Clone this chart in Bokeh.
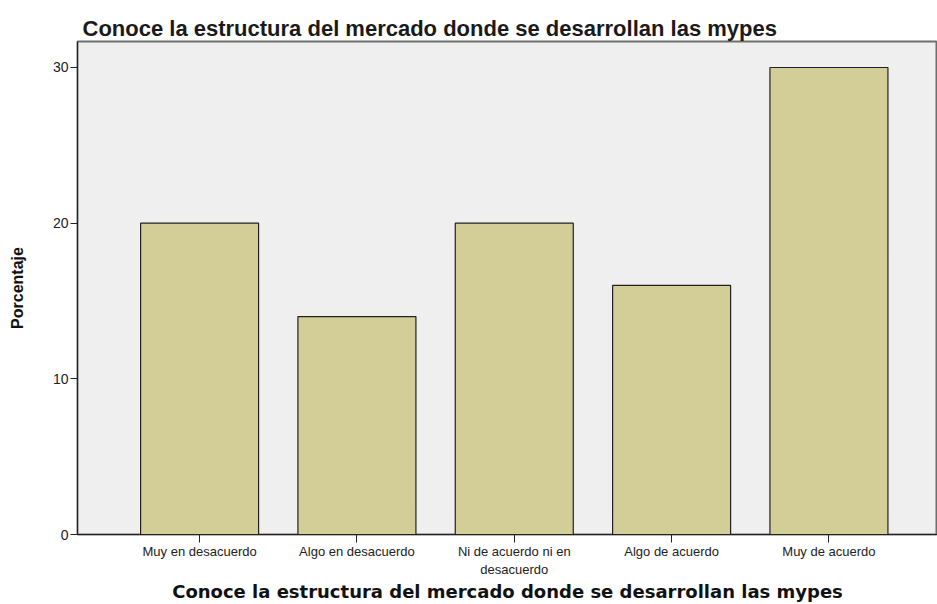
from bokeh.plotting import figure
from bokeh.models import Range1d, FixedTicker
from bokeh.embed import file_html
from bokeh.resources import INLINE

categories = ["Muy en desacuerdo", "Algo en desacuerdo", "Ni de acuerdo ni en\ndesacuerdo",
              "Algo de acuerdo", "Muy de acuerdo"]
values = [20, 14, 20, 16, 30]
y_ticks = [0, 10, 20, 30]
title_text = "Conoce la estructura del mercado donde se desarrollan las mypes"
x_label = "Conoce la estructura del mercado donde se desarrollan las mypes"
y_label = "Porcentaje"

xs = list(range(len(categories)))

p = figure(width=937, height=604, output_backend="svg", toolbar_location=None,
           x_range=Range1d(-0.776, 4.69), y_range=Range1d(0, 31.67),
           min_border_left=77, min_border_right=0, min_border_top=41, min_border_bottom=69)

p.title.text = title_text
p.title.text_font = "Liberation Sans"
p.title.text_font_style = "bold"
p.title.text_font_size = "22px"
p.title.offset = 5
p.title.standoff = 2
p.title.text_color = "#1a1a1a"

p.background_fill_color = "#efefef"
p.border_fill_color = "white"
p.outline_line_color = "#6e6e6e"
p.outline_line_width = 2
p.grid.visible = False

p.vbar(x=xs, top=values, width=0.75, bottom=0, fill_color="#d3ce97",
       line_color="#222222", line_width=1.2)

p.xaxis.ticker = FixedTicker(ticks=xs)
p.xaxis.major_label_overrides = {i: c for i, c in enumerate(categories)}
p.xaxis.minor_tick_line_color = None
p.xaxis.major_tick_out = 8
p.xaxis.major_tick_in = 0
p.xaxis.major_label_text_font = "Liberation Sans"
p.xaxis.major_label_text_font_size = "13px"
p.xaxis.major_label_text_color = "#222222"
p.xaxis.major_label_standoff = 1
p.xaxis.axis_label = x_label
p.xaxis.axis_label_text_font = "DejaVu Sans"
p.xaxis.axis_label_text_font_style = "bold"
p.xaxis.axis_label_text_font_size = "18px"
p.xaxis.axis_label_standoff = 1
p.xaxis.axis_label_text_color = "#111111"
p.xaxis.axis_line_color = "#222222"
p.xaxis.major_tick_line_color = "#222222"

p.yaxis.ticker = FixedTicker(ticks=y_ticks)
p.yaxis.minor_tick_line_color = None
p.yaxis.major_tick_out = 7
p.yaxis.major_tick_in = 0
p.yaxis.major_label_text_font = "Liberation Sans"
p.yaxis.major_label_text_font_size = "14px"
p.yaxis.major_label_text_color = "#222222"
p.yaxis.major_label_standoff = 2
p.yaxis.axis_label = y_label
p.yaxis.axis_label_text_font = "Liberation Sans"
p.yaxis.axis_label_text_font_style = "bold"
p.yaxis.axis_label_text_font_size = "16px"
p.yaxis.axis_label_standoff = 24
p.yaxis.axis_label_text_color = "#111111"
p.yaxis.axis_line_color = "#222222"
p.yaxis.major_tick_line_color = "#222222"

open("out.html", "w").write(file_html(p, INLINE))
